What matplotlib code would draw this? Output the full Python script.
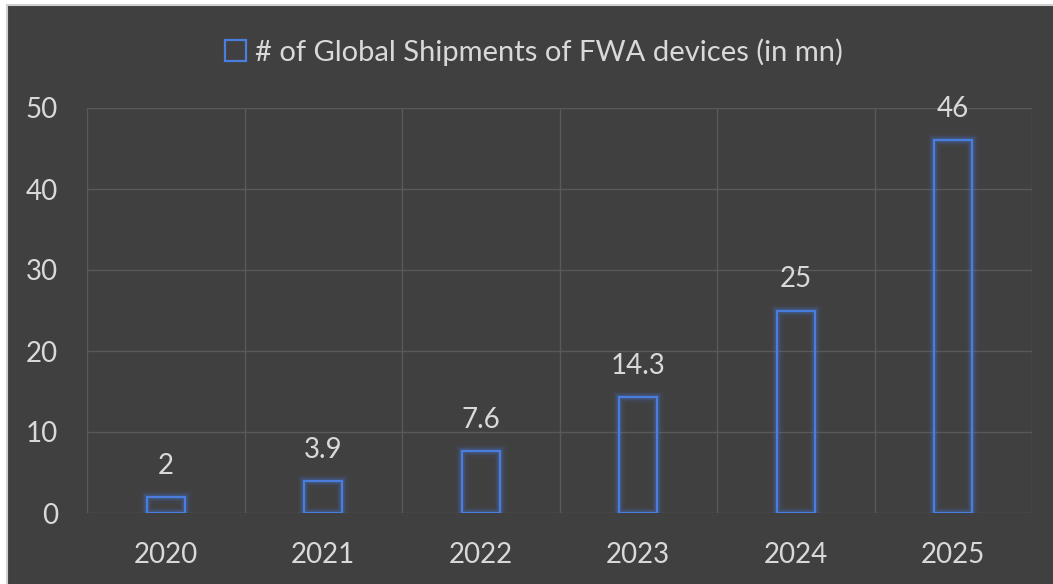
import matplotlib
matplotlib.use("Agg")
import matplotlib.pyplot as plt
from matplotlib.patches import Rectangle

years = ["2020", "2021", "2022", "2023", "2024", "2025"]
shipments = [2, 3.9, 7.6, 14.3, 25, 46]
value_labels = ["2", "3.9", "7.6", "14.3", "25", "46"]
series_name = "# of Global Shipments of FWA devices (in mn)"

bg = "#404040"
grid_c = "#595959"
text_c = "#d9d9d9"
bar_c = "#4a7de0"

plt.rcParams['font.family'] = ['Lato', 'DejaVu Sans']

W, H = 1053, 584
fig = plt.figure(figsize=(W / 100, H / 100), dpi=100, facecolor="white")
# dark chart area with thin light border on top/left (white margin as in reference)
fig.patches.append(Rectangle((7 / W, -0.05), 1.1, 1.05 - 5 / H, transform=fig.transFigure,
                             facecolor=bg, edgecolor="#d0d0d0", linewidth=1.5, zorder=-10))

ax = fig.add_axes([87 / W, 1 - 513 / H, (1032 - 87) / W, (513 - 108) / H])
ax.set_facecolor(bg)

x = list(range(len(years)))
width = 0.24
# glow layers
for lw, a in [(9, 0.06), (6, 0.10), (4, 0.18)]:
    ax.bar(x, shipments, width=width, facecolor="none", edgecolor=bar_c,
           linewidth=lw, alpha=a, zorder=3)
ax.bar(x, shipments, width=width, facecolor="none", edgecolor=bar_c,
       linewidth=1.6, zorder=4)

for xi, v, lab in zip(x, shipments, value_labels):
    ax.annotate(lab, (xi, v), xytext=(0, 13), textcoords="offset points",
                ha="center", va="bottom", color=text_c, fontsize=20)

ax.set_xlim(-0.5, len(years) - 0.5)
ax.set_ylim(0, 50)
ax.set_yticks([0, 10, 20, 30, 40, 50])
ax.set_xticks(x)
ax.set_xticklabels(years)
ax.tick_params(axis="both", length=0, colors=text_c, labelsize=20)
ax.tick_params(axis="x", pad=21)
ax.tick_params(axis="y", pad=21)

# grid: horizontal every 10, vertical at category boundaries
ax.set_xticks([i - 0.5 for i in range(len(years) + 1)], minor=True)
ax.grid(True, axis="y", color=grid_c, linewidth=1, zorder=0)
ax.grid(True, which="minor", axis="x", color=grid_c, linewidth=1, zorder=0)
ax.tick_params(which="minor", length=0)
for s in ax.spines.values():
    s.set_visible(False)

# legend
handle = Rectangle((0, 0), 1, 1, facecolor="none", edgecolor=bar_c, linewidth=1.6)
fig.legend([handle], [series_name], loc="center", bbox_to_anchor=(534 / W, 1 - 52 / H),
           frameon=False, fontsize=21, labelcolor=text_c, handlelength=0.7,
           handleheight=0.7, handletextpad=0.3)

fig.savefig("out.png", dpi=100, facecolor="white")
